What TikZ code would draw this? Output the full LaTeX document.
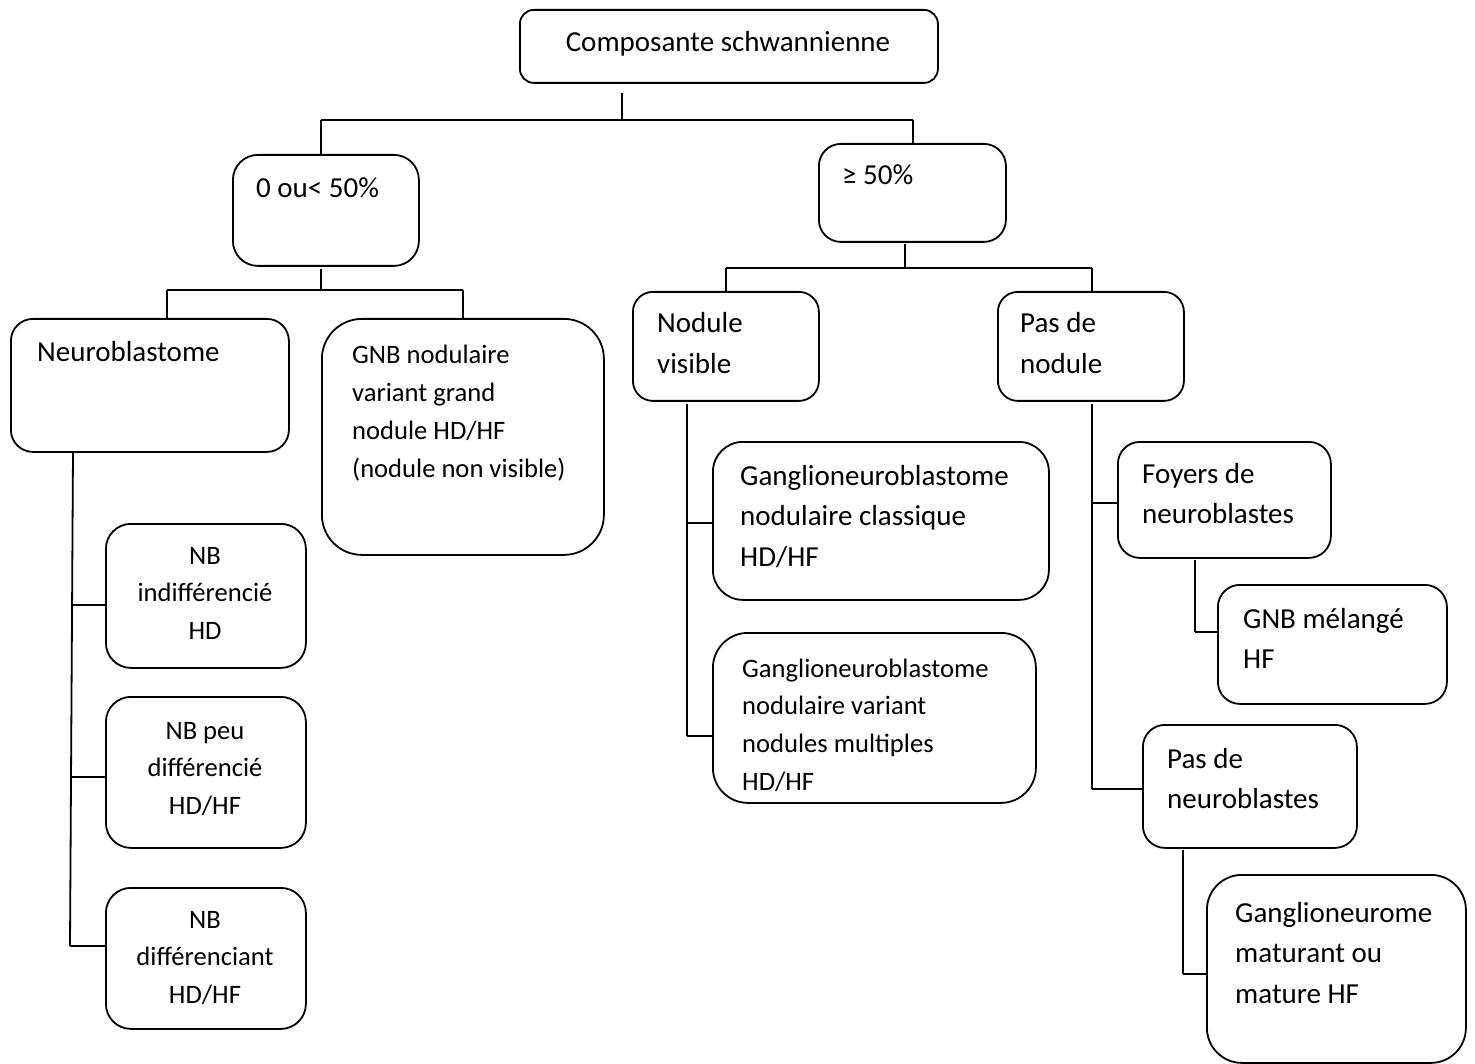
\documentclass[tikz,border=0pt]{standalone}
\usepackage{fontspec}
\setmainfont{Carlito}
\newcommand\bigf{\fontsize{29}{40.5}\selectfont}
\newcommand\smallf{\fontsize{26.6}{37.8}\selectfont}
\newcommand\myleft[1]{\begin{tabular}[t]{@{}l@{}}#1\end{tabular}}
\newcommand\mycenter[1]{\begin{tabular}[t]{@{}c@{}}#1\end{tabular}}
\tikzset{
  box/.style={draw, line width=1.8pt, rounded corners=#1, inner sep=0pt, anchor=north west},
  box/.default=22pt,
  conn/.style={line width=1.8pt},
  txt/.style={inner sep=0pt, anchor=base west, font=\bigf},
  stxt/.style={inner sep=0pt, anchor=base west, font=\smallf},
  ctxt/.style={inner sep=0pt, anchor=base, font=\smallf},
}
\begin{document}
\begin{tikzpicture}[x=1pt,y=-1pt]
\useasboundingbox (0,0) rectangle (1475,1064);
% boxes
\node[box=14pt, minimum width=418pt, minimum height=73pt] (root) at (519,9) {};
\node[box=25pt, minimum width=186pt, minimum height=111pt] (zero) at (232,154) {};
\node[box=22pt, minimum width=187pt, minimum height=98pt] (ge) at (818,143) {};
\node[box=22pt, minimum width=278pt, minimum height=133pt] (neuro) at (10,318) {};
\node[box=40pt, minimum width=282pt, minimum height=236pt] (gnbn) at (321,318) {};
\node[box=25pt, minimum width=200pt, minimum height=144pt] (nb1) at (105,523) {};
\node[box=25pt, minimum width=200pt, minimum height=151pt] (nb2) at (105,696) {};
\node[box=25pt, minimum width=200pt, minimum height=141pt] (nb3) at (105,887) {};
\node[box=20pt, minimum width=186pt, minimum height=109pt] (nodv) at (632,291) {};
\node[box=20pt, minimum width=186pt, minimum height=109pt] (pasn) at (997,291) {};
\node[box=30pt, minimum width=336pt, minimum height=158pt] (gcl) at (712,441) {};
\node[box=35pt, minimum width=323pt, minimum height=170pt] (gvar) at (712,632) {};
\node[box=22pt, minimum width=213pt, minimum height=116pt] (foy) at (1117,441) {};
\node[box=22pt, minimum width=229pt, minimum height=119pt] (gnbm) at (1217,584) {};
\node[box=22pt, minimum width=214pt, minimum height=123pt] (pnb) at (1142,724) {};
\node[box=35pt, minimum width=259pt, minimum height=188pt] (gneu) at (1206,874) {};
% texts
\node[txt, anchor=base] (troot) at (728,52) {Composante schwannienne};
\node[txt] (tzero) at (256,198) {0 ou< 50\%};
\node[txt] (tge) at (842,185) {≥ 50\%};
\node[txt] (tneuro) at (37,362) {Neuroblastome};
\node[stxt] (tgnbn) at (352,364) {\myleft{GNB nodulaire\\variant grand\\nodule HD/HF\\(nodule non visible)}};
\node[ctxt] (tnb1) at (205,564) {\mycenter{NB\\indifférencié\\HD}};
\node[ctxt] (tnb2) at (205,739) {\mycenter{NB peu\\différencié\\HD/HF}};
\node[ctxt] (tnb3) at (205,928) {\mycenter{NB\\différenciant\\HD/HF}};
\node[txt] (tnodv) at (657,333) {\myleft{Nodule\\visible}};
\node[txt] (tpasn) at (1020,333) {\myleft{Pas de\\nodule}};
\node[txt] (tgcl) at (740,485) {\myleft{Ganglioneuroblastome\\nodulaire classique\\HD/HF}};
\node[stxt] (tgvar) at (742,677) {\myleft{Ganglioneuroblastome\\nodulaire variant\\nodules multiples\\HD/HF}};
\node[txt] (tfoy) at (1142,483) {\myleft{Foyers de\\neuroblastes}};
\node[txt] (tgnbm) at (1243,628) {\myleft{GNB mélangé\\HF}};
\node[txt] (tpnb) at (1167,768) {\myleft{Pas de\\neuroblastes}};
\node[txt] (tgneu) at (1235,922) {\myleft{Ganglioneurome\\maturant ou\\mature HF}};
% junction coordinates
\coordinate (s1) at (622,93);
\coordinate (j1) at (622,120);
\coordinate (j1L) at (321,120);
\coordinate (j1R) at (913,120);
\coordinate (s2) at (321,269);
\coordinate (j2) at (321,290);
\coordinate (j2L) at (167,290);
\coordinate (j2R) at (463,290);
\coordinate (s3) at (73,452);
\coordinate (t31) at (72,605);
\coordinate (t32) at (71,777);
\coordinate (t33) at (70,946);
\coordinate (s4) at (905,244);
\coordinate (j4) at (905,268);
\coordinate (j4L) at (726,268);
\coordinate (j4R) at (1092,268);
\coordinate (s5) at (687,404);
\coordinate (t51) at (687,523);
\coordinate (t52) at (687,736);
\coordinate (s6) at (1092,404);
\coordinate (t61) at (1092,503);
\coordinate (t62) at (1092,789);
\coordinate (s7) at (1195,560);
\coordinate (t71) at (1195,632);
\coordinate (s8) at (1183,850);
\coordinate (t81) at (1183,974);
% connectors
\draw[conn] (s1) -- (j1);
\draw[conn] (j1L) -- (j1R);
\draw[conn] (j1L) -- (j1L |- zero.north);
\draw[conn] (j1R) -- (j1R |- ge.north);
\draw[conn] (s2) -- (j2);
\draw[conn] (j2L) -- (j2R);
\draw[conn] (j2L) -- (j2L |- neuro.north);
\draw[conn] (j2R) -- (j2R |- gnbn.north);
\draw[conn] (s3) -- (t33);
\draw[conn] (t31) -- (t31 -| nb1.west);
\draw[conn] (t32) -- (t32 -| nb2.west);
\draw[conn] (t33) -- (t33 -| nb3.west);
\draw[conn] (s4) -- (j4);
\draw[conn] (j4L) -- (j4R);
\draw[conn] (j4L) -- (j4L |- nodv.north);
\draw[conn] (j4R) -- (j4R |- pasn.north);
\draw[conn] (s5) -- (t52);
\draw[conn] (t51) -- (t51 -| gcl.west);
\draw[conn] (t52) -- (t52 -| gvar.west);
\draw[conn] (s6) -- (t62);
\draw[conn] (t61) -- (t61 -| foy.west);
\draw[conn] (t62) -- (t62 -| pnb.west);
\draw[conn] (s7) -- (t71);
\draw[conn] (t71) -- (t71 -| gnbm.west);
\draw[conn] (s8) -- (t81);
\draw[conn] (t81) -- (t81 -| gneu.west);
\end{tikzpicture}
\end{document}
